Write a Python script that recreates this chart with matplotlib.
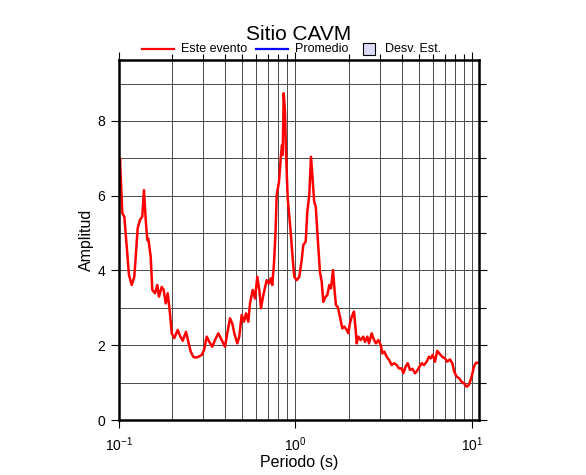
import matplotlib
matplotlib.use('Agg')
import matplotlib.pyplot as plt
from matplotlib.lines import Line2D
from matplotlib.patches import Rectangle
from matplotlib.ticker import LogLocator, MultipleLocator, NullFormatter

plt.rcParams['font.family'] = ['Liberation Sans', 'DejaVu Sans']
plt.rcParams['mathtext.fontset'] = 'custom'
plt.rcParams['mathtext.rm'] = 'Liberation Sans'
plt.rcParams['mathtext.it'] = 'Liberation Sans:italic'
plt.rcParams['mathtext.default'] = 'regular'

title = "Sitio CAVM"
legend_labels = ["Este evento", "Promedio", "Desv. Est."]
x_label = "Periodo (s)"
y_label = "Amplitud"

period = [0.100, 0.1013, 0.1044, 0.1072, 0.1106, 0.1139, 0.1180, 0.1221, 0.1276, 0.1315,
          0.1355, 0.1385, 0.1417, 0.1447, 0.1466, 0.1512, 0.1544, 0.1600, 0.1648, 0.1685,
          0.1746, 0.1792, 0.1839, 0.1888, 0.1945, 0.1989, 0.2057, 0.2151, 0.2216, 0.2296,
          0.2397, 0.2470, 0.2548, 0.2636, 0.2731, 0.2814, 0.2942, 0.3031, 0.3140, 0.3248,
          0.3378, 0.3499, 0.3653, 0.3818, 0.3987, 0.4108, 0.4255, 0.4385, 0.4501, 0.4680,
          0.4804, 0.4957, 0.5108, 0.5243, 0.5403, 0.5524, 0.5722, 0.5895, 0.6076, 0.6236,
          0.6375, 0.6570, 0.6868, 0.7078, 0.7237, 0.7390, 0.7555, 0.7704, 0.7826, 0.8064,
          0.8277, 0.8386, 0.8463, 0.8575, 0.8721, 0.8836, 0.9034, 0.9393, 0.9641, 0.9845,
          1.0157, 1.0507, 1.0842, 1.1070, 1.1423, 1.1665, 1.1974, 1.2243, 1.2518, 1.2765,
          1.3032, 1.3413, 1.3766, 1.4077, 1.4372, 1.4829, 1.5142, 1.5542, 1.5889, 1.6310,
          1.6675, 1.6962, 1.7341, 1.7868, 1.8415, 1.8902, 1.9504, 1.9918, 2.0363, 2.0900,
          2.1451, 2.1934, 2.2223, 2.2693, 2.3415, 2.4221, 2.4766, 2.5520, 2.6090, 2.7024,
          2.7851, 2.8586, 2.9456, 3.0394, 3.1037, 3.1855, 3.2868, 3.3999, 3.5075, 3.6148,
          3.7443, 3.8582, 3.9965, 4.0810, 4.2110, 4.3222, 4.4540, 4.6020, 4.7534, 4.8607,
          5.0085, 5.1880, 5.3458, 5.5374, 5.7067, 5.8343, 5.9882, 6.1714, 6.3591, 6.5870,
          6.7874, 7.0307, 7.2454, 7.5053, 7.7340, 7.9379, 8.1904, 8.4723, 8.7420, 9.0096,
          9.3325, 9.6161, 9.961, 10.26, 10.54, 10.96]

amplitude = [6.47, 7.00, 5.53, 5.44, 4.63, 3.88, 3.61, 3.83, 5.13, 5.35,
             5.44, 6.15, 5.35, 4.81, 4.85, 4.37, 3.48, 3.39, 3.61, 3.30,
             3.56, 3.48, 3.12, 3.39, 2.85, 2.32, 2.19, 2.41, 2.25, 2.12,
             2.36, 2.09, 1.83, 1.69, 1.67, 1.69, 1.74, 1.87, 2.23, 2.09,
             1.96, 2.14, 2.32, 2.14, 1.96, 2.32, 2.72, 2.58, 2.32, 2.05,
             2.23, 2.81, 2.63, 2.85, 2.63, 3.12, 3.48, 3.25, 3.83, 3.48,
             2.99, 3.34, 3.74, 3.65, 3.79, 3.61, 4.20, 5.00, 6.02, 6.37,
             7.09, 7.35, 7.09, 8.74, 8.24, 7.17, 5.93, 5.03, 4.32, 3.83,
             3.74, 3.83, 4.28, 4.68, 4.77, 5.57, 6.02, 7.04, 6.40, 5.84,
             5.70, 4.75, 3.95, 3.70, 3.16, 3.30, 3.34, 3.61, 3.52, 4.01,
             3.43, 3.07, 3.03, 2.76, 2.45, 2.50, 2.41, 2.32, 2.60, 2.78,
             2.90, 2.41, 2.05, 2.23, 2.14, 2.23, 2.09, 2.23, 2.05, 2.32,
             2.14, 2.05, 2.14, 2.01, 1.78, 1.83, 1.69, 1.60, 1.47, 1.52,
             1.47, 1.38, 1.38, 1.25, 1.43, 1.52, 1.34, 1.37, 1.25, 1.30,
             1.40, 1.52, 1.47, 1.56, 1.69, 1.65, 1.74, 1.56, 1.85, 1.76,
             1.69, 1.65, 1.56, 1.62, 1.52, 1.29, 1.16, 1.11, 1.02, 0.98,
             0.89, 0.94, 1.16, 1.43, 1.53, 1.53]

W, H = 586, 475
fig = plt.figure(figsize=(W / 100, H / 100), dpi=100)
fig.patch.set_facecolor('white')

def fx(px):
    return px / W

def fy(py):
    return 1 - py / H

ax = fig.add_axes([fx(119), fy(420), 360 / W, 360 / H])
ax.plot(period, amplitude, color='#ff0000', lw=1.8, zorder=3, solid_joinstyle='round')
ax.set_xscale('log')
ax.set_xlim(0.1, 10.96)
ax.set_ylim(0, 9.63)
ax.xaxis.set_major_locator(LogLocator(base=10, numticks=10))
ax.xaxis.set_minor_locator(LogLocator(base=10, subs=range(2, 10), numticks=30))
ax.xaxis.set_minor_formatter(NullFormatter())
ax.yaxis.set_major_locator(MultipleLocator(2))
ax.yaxis.set_minor_locator(MultipleLocator(1))
ax.grid(True, which='both', color='#4a4a4a', lw=0.7, zorder=1)
ax.set_axisbelow(True)

for s in ax.spines.values():
    s.set_linewidth(1.8)
    s.set_zorder(4)

ax.tick_params(axis='x', which='major', bottom=True, top=True, direction='out',
               length=6, width=0.8, labelsize=10, pad=5)
ax.tick_params(axis='x', which='minor', bottom=False, top=True, direction='out',
               length=4, width=0.8)
ax.tick_params(axis='y', which='major', left=True, right=True, direction='out',
               length=6, width=0.8, labelsize=10, pad=4)
ax.tick_params(axis='y', which='minor', left=False, right=True, direction='out',
               length=5, width=0.8)

ax.set_xlabel(x_label, fontsize=11.5, labelpad=1)
ax.set_ylabel(y_label, fontsize=11.5, labelpad=2)

fig.text(fx(299), fy(40), title, ha='center', va='baseline', fontsize=15)

# legend (manual, above the axes)
ly = fy(49)
fig.add_artist(Line2D([fx(142), fx(174)], [ly, ly], color='#ff0000', lw=1.6))
fig.text(fx(181), ly, legend_labels[0], ha='left', va='center', fontsize=9)
fig.add_artist(Line2D([fx(256), fx(288)], [ly, ly], color='#0000ff', lw=1.6))
fig.text(fx(295), ly, legend_labels[1], ha='left', va='center', fontsize=9)
fig.add_artist(Rectangle((fx(363), fy(55)), 12 / W, 12 / H, facecolor='#dcdcf8',
                         edgecolor='black', lw=0.8, transform=fig.transFigure))
fig.text(fx(385), ly, legend_labels[2], ha='left', va='center', fontsize=9)

fig.savefig('out.png', dpi=100)
